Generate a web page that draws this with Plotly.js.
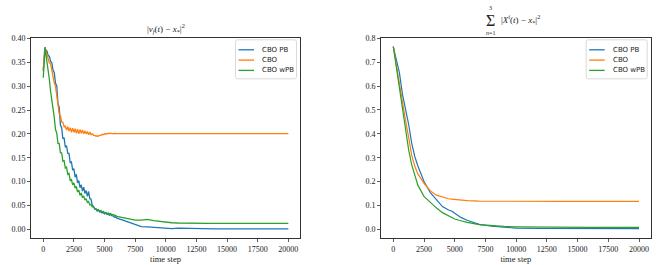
<!DOCTYPE html>
<html><head><meta charset="utf-8">
<script src="https://cdn.plot.ly/plotly-3.0.1.min.js"></script>
<style>html,body{margin:0;padding:0;background:#fff}#c{width:661px;height:265px}</style>
</head><body><div id="c"></div>
<script>
const seriesNames = ["CBO PB", "CBO", "CBO wPB"];
const seriesColors = ["#1f77b4", "#ff7f0e", "#2ca02c"];

// Left panel: |v_f(t) - x_*|^2
const steps = [0,50,100,150,200,300,400,500,600,700,800,900,1000,1100,1200,1300,1400,1500,1600,1700,1800,1900,2000,2100,2200,2300,2400,2500,2600,2700,2800,2900,3000,3100,3200,3300,3400,3500,3600,3700,3800,3900,4000,4100,4200,4300,4400,4500,4600,4700,4800,4900,5000,5100,5200,5300,5400,5500,5600,5700,5800,5900,6000,6500,7000,7500,8000,8500,9000,9500,10000,10500,11000,11500,12000,12500,13000,13500,14000,14500,15000,15500,16000,16500,17000,17500,18000,18500,19000,19500,19999];
const pbLeft = [.332,.362,.371,.382,.376,.374,.364,.363,.352,.349,.333,.329,.306,.301,.264,.256,.219,.213,.19,.192,.172,.175,.159,.159,.139,.141,.124,.127,.109,.115,.097,.102,.087,.093,.08,.088,.075,.081,.069,.079,.064,.063,.05,.048,.042,.042,.038,.04,.036,.037,.034,.035,.032,.034,.031,.032,.029,.031,.028,.028,.025,.026,.023,.019,.014,.01,.0055,.005,.004,.0035,.003,.0012,.0022,.0018,.0011,.0016,.001,.0008,.0008,.0007,.0007,.0007,.0007,.0007,.0007,.0007,.0007,.0007,.0007,.0007,.0007];
const cboLeft = [.335,.358,.374,.38,.376,.366,.362,.349,.347,.332,.325,.307,.3,.277,.265,.242,.238,.225,.224,.215,.216,.208,.215,.206,.213,.203,.212,.203,.211,.201,.21,.2,.209,.201,.208,.2,.206,.2,.205,.198,.204,.198,.2,.197,.197,.195,.196,.195,.197,.197,.199,.198,.2,.199,.201,.2,.2015,.2005,.201,.2,.201,.2005,.2003,.2003,.2003,.2003,.2003,.2003,.2003,.2003,.2003,.2003,.2003,.2003,.2003,.2003,.2003,.2003,.2003,.2003,.2003,.2003,.2003,.2003,.2003,.2003,.2003,.2003,.2003,.2003,.2003];
const wpbLeft = [.318,.352,.37,.381,.37,.354,.332,.314,.289,.272,.247,.234,.209,.202,.18,.18,.16,.16,.143,.144,.128,.13,.115,.117,.102,.104,.093,.097,.086,.09,.078,.082,.071,.076,.066,.07,.061,.064,.056,.058,.051,.052,.047,.047,.043,.043,.04,.041,.038,.039,.036,.037,.034,.035,.033,.034,.032,.033,.03,.031,.029,.029,.027,.024,.022,.019,.019,.0205,.018,.016,.015,.0135,.013,.0125,.012,.012,.012,.012,.012,.012,.012,.012,.012,.012,.012,.012,.012,.012,.012,.012,.012];

// Right panel: sum_{n=1}^{3} |X^i(t) - x_*|^2
const stepsR = [0,250,500,750,1000,1250,1500,1750,2000,2500,3000,3500,4000,4500,4750,5000,5500,6000,7000,8000,9000,10000,12000,14000,16000,18000,19999];
const pbRight = [.765,.71,.655,.565,.508,.44,.36,.305,.265,.2,.155,.123,.095,.081,.077,.067,.05,.038,.021,.013,.008,.005,.0035,.003,.0028,.0027,.0027];
const cboRight = [.765,.685,.6,.53,.455,.385,.31,.265,.232,.192,.162,.143,.134,.128,.1265,.125,.122,.12,.118,.1175,.117,.117,.117,.1168,.1168,.1168,.1168];
const wpbRight = [.765,.68,.578,.5,.415,.333,.27,.222,.185,.138,.113,.09,.07,.055,.049,.043,.036,.029,.02,.015,.012,.0105,.009,.0085,.008,.008,.008];

const leftTicks = [0,0.05,0.10,0.15,0.20,0.25,0.30,0.35,0.40];
const rightTicks = [0,0.1,0.2,0.3,0.4,0.5,0.6,0.7,0.8];
const xTicks = [0,2500,5000,7500,10000,12500,15000,17500,20000];

const W = 661, H = 265;
const px = p => p / W, py = p => 1 - p / H;
const serif = "Liberation Serif, DejaVu Serif, serif";
const sans = "DejaVu Sans, sans-serif";

const leftVals = [pbLeft, cboLeft, wpbLeft];
const rightVals = [pbRight, cboRight, wpbRight];
const traces = [];
leftVals.forEach((v, i) => traces.push({x: steps, y: v, type: "scatter", mode: "lines", name: seriesNames[i],
  line: {color: seriesColors[i], width: 1.3}, xaxis: "x", yaxis: "y", showlegend: false}));
rightVals.forEach((v, i) => traces.push({x: stepsR, y: v, type: "scatter", mode: "lines", name: seriesNames[i],
  line: {color: seriesColors[i], width: 1.2}, xaxis: "x2", yaxis: "y2", showlegend: false}));

const plots = [
  {x0: 31, x1: 300, y0: 38.3, y1: 238},
  {x0: 381, x1: 650.7, y0: 38.3, y1: 238}
];

const axBase = {showline: true, mirror: true, linecolor: "#333", linewidth: 1, ticks: "outside", ticklen: 3,
  tickcolor: "#333", tickwidth: 0.8, showgrid: false, zeroline: false, tickfont: {family: serif, size: 8, color: "#222"}};

const xCommon = Object.assign({}, axBase, {range: [-1000, 20950], tickmode: "array", tickvals: xTicks,
  ticktext: xTicks.map(String), title: {text: "time step", font: {family: serif, size: 8.5, color: "#222"}, standoff: 0}});

const layout = {
  width: W, height: H, margin: {l: 0, r: 0, t: 0, b: 0}, paper_bgcolor: "#fff", plot_bgcolor: "#fff",
  showlegend: false,
  xaxis: Object.assign({}, xCommon, {domain: [px(plots[0].x0), px(plots[0].x1)], anchor: "y"}),
  yaxis: Object.assign({}, axBase, {domain: [py(plots[0].y1), py(plots[0].y0)], range: [-0.0185, 0.4005], anchor: "x",
    tickmode: "array", tickvals: leftTicks, ticktext: leftTicks.map(v => v.toFixed(2))}),
  xaxis2: Object.assign({}, xCommon, {domain: [px(plots[1].x0), px(plots[1].x1)], anchor: "y2"}),
  yaxis2: Object.assign({}, axBase, {domain: [py(plots[1].y1), py(plots[1].y0)], range: [-0.0363, 0.8], anchor: "x2",
    tickmode: "array", tickvals: rightTicks, ticktext: rightTicks.map(v => v.toFixed(1))}),
  shapes: [], annotations: []
};

// titles
layout.annotations.push({xref: "paper", yref: "paper", x: px(165.5), y: py(29), xanchor: "center", yanchor: "middle",
  showarrow: false, text: "|<i>v</i><sub><i>f</i></sub>(<i>t</i>) − <i>x</i><sub>*</sub>|<sup>2</sup>",
  font: {family: serif, size: 9, color: "#222"}});
layout.annotations.push({xref: "paper", yref: "paper", x: px(490), y: py(21), xanchor: "center", yanchor: "middle",
  showarrow: false, text: "Σ", font: {family: serif, size: 16, color: "#222"}});
layout.annotations.push({xref: "paper", yref: "paper", x: px(490), y: py(8), xanchor: "center", yanchor: "middle",
  showarrow: false, text: "3", font: {family: serif, size: 6, color: "#222"}});
layout.annotations.push({xref: "paper", yref: "paper", x: px(490), y: py(33), xanchor: "center", yanchor: "middle",
  showarrow: false, text: "<i>n</i>=1", font: {family: serif, size: 6, color: "#222"}});
layout.annotations.push({xref: "paper", yref: "paper", x: px(499), y: py(20), xanchor: "left", yanchor: "middle",
  showarrow: false, text: "|<i>X</i><sup><i>i</i></sup>(<i>t</i>) − <i>x</i><sub>*</sub>|<sup>2</sup>",
  font: {family: serif, size: 9, color: "#222"}});

// legends (matplotlib style box)
plots.forEach(p => {
  const bx1 = p.x1 - 3.5, bx0 = bx1 - 61, by0 = p.y0 + 1.5, by1 = by0 + 39, r = 2;
  const X = v => px(v), Y = v => py(v);
  const path = `M${X(bx0 + r)},${Y(by0)} L${X(bx1 - r)},${Y(by0)} Q${X(bx1)},${Y(by0)} ${X(bx1)},${Y(by0 + r)} ` +
    `L${X(bx1)},${Y(by1 - r)} Q${X(bx1)},${Y(by1)} ${X(bx1 - r)},${Y(by1)} L${X(bx0 + r)},${Y(by1)} ` +
    `Q${X(bx0)},${Y(by1)} ${X(bx0)},${Y(by1 - r)} L${X(bx0)},${Y(by0 + r)} Q${X(bx0)},${Y(by0)} ${X(bx0 + r)},${Y(by0)} Z`;
  layout.shapes.push({type: "path", xref: "paper", yref: "paper", path: path,
    line: {color: "#d0d0d0", width: 0.8}, fillcolor: "rgba(255,255,255,0.8)"});
  seriesNames.forEach((n, i) => {
    const yy = by0 + 10 + i * 10.3;
    layout.shapes.push({type: "line", xref: "paper", yref: "paper", x0: X(bx0 + 3), x1: X(bx0 + 18.5), y0: Y(yy), y1: Y(yy),
      line: {color: seriesColors[i], width: 1.3}});
    layout.annotations.push({xref: "paper", yref: "paper", x: X(bx0 + 24.5), y: Y(yy), xanchor: "left", yanchor: "middle",
      showarrow: false, text: n, font: {family: sans, size: 7, color: "#222"}});
  });
});

Plotly.newPlot("c", traces, layout, {displayModeBar: false, staticPlot: true});
</script></body></html>
